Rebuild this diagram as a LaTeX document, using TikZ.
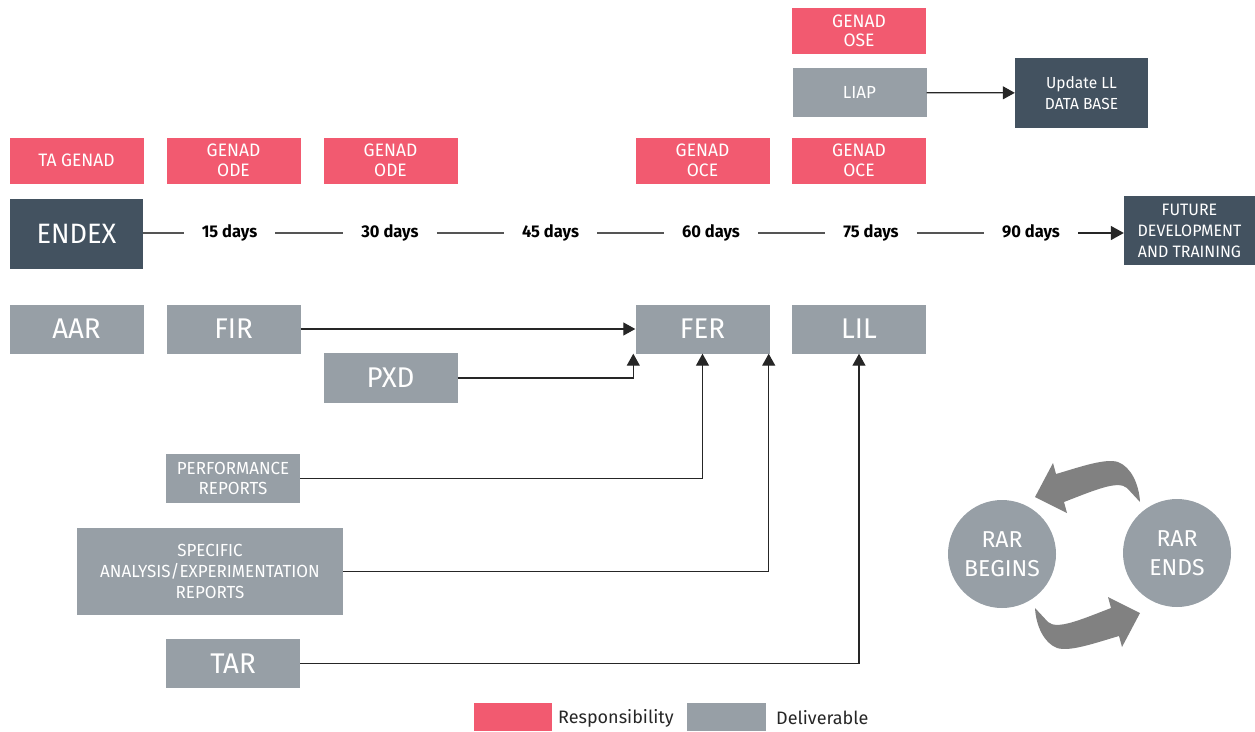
\documentclass[tikz,border=0pt]{standalone}
\usepackage{fontspec}
\setmainfont{Fira Sans}
\newfontfamily\condf[FakeStretch=0.97]{Fira Sans}
\usetikzlibrary{arrows.meta}
\definecolor{respcol}{HTML}{F25A70}
\definecolor{delivcol}{HTML}{979FA6}
\definecolor{darkcol}{HTML}{435260}
\definecolor{swooshcol}{HTML}{818181}
\definecolor{linecol}{HTML}{555555}
\newcommand{\fsz}[2]{\fontsize{#1}{#2}\selectfont}
\begin{document}
\begin{tikzpicture}[x=1pt,y=-1pt,
  box/.style={rectangle, inner sep=0pt, text=white, align=center},
  respbox/.style={box, fill=respcol, minimum width=134, minimum height=46, font=\condf\fsz{18}{19.5}},
  delbox/.style={box, fill=delivcol, minimum width=134, minimum height=49, font=\condf\fsz{28.5}{30}},
  smalldel/.style={box, fill=delivcol, font=\condf\fsz{17.5}{20}},
  darkbox/.style={box, fill=darkcol},
  daylabel/.style={inner xsep=18pt, inner ysep=2pt, font=\bfseries\condf\fsz{17}{19}},
  tline/.style={draw=linecol, line width=1.4pt},
  tarrow/.style={tline, draw=black!85, -{Triangle[length=13pt,width=14pt]}},
  conn/.style={draw=black!85, line width=1.2pt, -{Triangle[length=12pt,width=13pt]}},
  rarcircle/.style={circle, fill=delivcol, minimum size=108, inner sep=0pt, text=white, align=center, font=\fsz{23}{29}},
  legendbox/.style={rectangle, minimum width=78, minimum height=28, inner sep=0pt},
  legendtext/.style={anchor=west, inner sep=0pt, font=\fsz{18}{20}, text=black!85}
]
\useasboundingbox (0,0) rectangle (1255,731);

% top column: lessons learned chain
\node[respbox] (ose) at (859,31) {GENAD\\OSE};
\node[delbox, font=\condf\fsz{17.5}{19}] (liap) at (859.5,92.5) {LIAP};
\node[darkbox, minimum width=133, minimum height=70, font=\condf\fsz{16}{20.5}] (upd) at (1081.5,93) {Update LL\\DATA BASE};
\draw[conn] (liap) -- (upd);

% responsibilities above the timeline
\node[respbox] (ta)   at (76.5,160.5)  {TA GENAD};
\node[respbox] (ode1) at (233.5,160.5) {GENAD\\ODE};
\node[respbox] (ode2) at (390.5,160.5) {GENAD\\ODE};
\node[respbox] (oce1) at (702.5,160.5) {GENAD\\OCE};
\node[respbox] (oce2) at (859,160.5)   {GENAD\\OCE};

% timeline
\node[darkbox, minimum width=133, minimum height=70, font=\condf\fsz{28}{30}] (endex) at (76.5,234) {ENDEX};
\node[darkbox, minimum width=131, minimum height=69, font=\condf\fsz{16.5}{21}] (future) at (1189.5,230.5) {FUTURE\\DEVELOPMENT\\AND TRAINING};
\node[daylabel] (d15) at (229.5,233) {15 days};
\node[daylabel] (d30) at (390,233)   {30 days};
\node[daylabel] (d45) at (550.5,233) {45 days};
\node[daylabel] (d60) at (711,233)   {60 days};
\node[daylabel] (d75) at (871,233)   {75 days};
\node[daylabel] (d90) at (1031,233)  {90 days};
\draw[tline] (endex.east |- d15) -- (d15);
\draw[tline] (d15) -- (d30);
\draw[tline] (d30) -- (d45);
\draw[tline] (d45) -- (d60);
\draw[tline] (d60) -- (d75);
\draw[tline] (d75) -- (d90);
\draw[tarrow] (d90) -- (future.west |- d90);

% deliverables
\node[delbox] (aar) at (76.5,329)  {AAR};
\node[delbox] (fir) at (233.5,329) {FIR};
\node[delbox] (fer) at (702.5,329) {FER};
\node[delbox] (lil) at (859,329)   {LIL};
\node[delbox, minimum height=50] (pxd) at (390.5,378) {PXD};
\node[smalldel, minimum width=134, minimum height=49] (perf) at (233,478.5) {PERFORMANCE\\REPORTS};
\node[smalldel, minimum width=266, minimum height=87, font=\condf\fsz{17.5}{21}] (spec) at (210,571.5) {SPECIFIC\\ANALYSIS/EXPERIMENTATION\\REPORTS};
\node[delbox] (tar) at (233,663.5) {TAR};

\draw[conn] (fir) -- (fer);
\draw[conn] (pxd.east) -| ([xshift=-2pt]fer.south west);
\draw[conn] (perf.east) -| (fer.south);
\draw[conn] (spec.east) -| ([xshift=-1pt]fer.south east);
\draw[conn] (tar.east) -| (lil.south);

% review cycle
\node[rarcircle] (rb) at (1002,554) {RAR\\BEGINS};
\node[rarcircle] (re) at (1177,553) {RAR\\ENDS};
\foreach \ang in {0,180}{
  \fill[swooshcol, rotate around={\ang:(1087.5,555)}]
    (1035,497) -- (1053,463) -- (1056,474)
    .. controls (1080,467) and (1105,458) .. (1118,462)
    .. controls (1131,467) and (1139,484) .. (1140,502)
    -- (1127,488)
    .. controls (1118,480) and (1095,490) .. (1064,502)
    -- (1067,513) -- cycle;
}

% legend
\node[legendbox, fill=respcol] (lgr) at (513,717) {};
\node[legendtext] (lgrt) at (558,718) {Responsibility};
\node[legendbox, fill=delivcol, minimum width=79] (lgd) at (726.5,717) {};
\node[legendtext] (lgdt) at (776,718) {Deliverable};
\end{tikzpicture}
\end{document}
